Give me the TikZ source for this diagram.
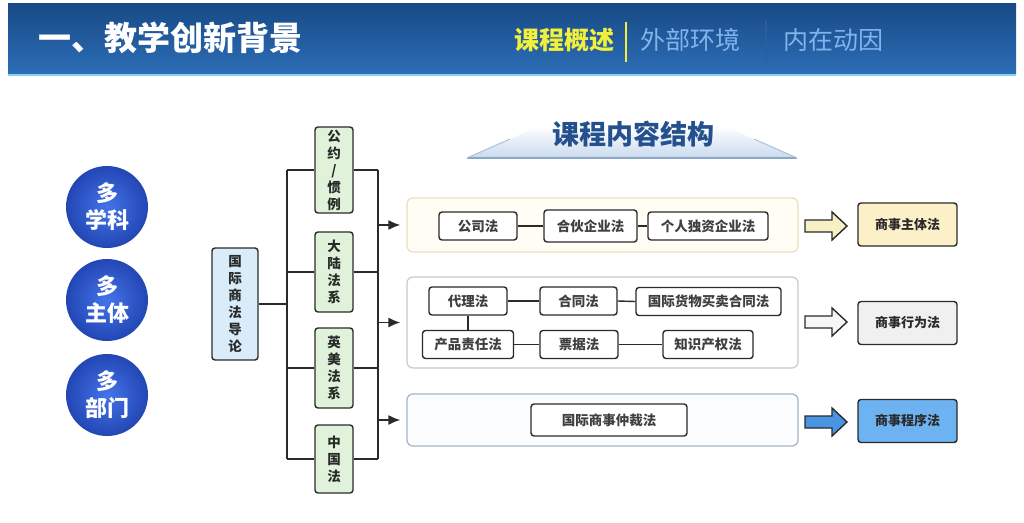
\documentclass[tikz,border=0pt]{standalone}
\usepackage{fontspec}
\setmainfont{Noto Sans CJK SC}
\usetikzlibrary{arrows.meta}
\definecolor{hdrtop}{HTML}{184A86}
\definecolor{hdrbot}{HTML}{2C6DB6}
\definecolor{hdrline}{HTML}{86D2F2}
\definecolor{tabyellow}{HTML}{F2F03C}
\definecolor{tabblue}{HTML}{80B4EC}
\definecolor{tabsep}{HTML}{2A5E9E}
\definecolor{circin}{HTML}{4474EA}
\definecolor{circout}{HTML}{2346B4}
\definecolor{lineink}{HTML}{2A2A2A}
\definecolor{greenfill}{HTML}{E0F3DA}
\definecolor{introfill}{HTML}{D8EDF9}
\definecolor{titleblue}{HTML}{24508E}
\definecolor{bannerbot}{HTML}{C9DAEE}
\definecolor{banneredge}{HTML}{8CA6C8}
\definecolor{gonefill}{HTML}{FFFDF4}
\definecolor{gonedraw}{HTML}{E8E0BC}
\definecolor{gtwodraw}{HTML}{C6CACF}
\definecolor{gthreefill}{HTML}{FBFDFF}
\definecolor{gthreedraw}{HTML}{A2B5CA}
\definecolor{aone}{HTML}{F7F0C4}
\definecolor{atwo}{HTML}{F6F6F6}
\definecolor{athree}{HTML}{4A94E4}
\definecolor{rone}{HTML}{FCF0C8}
\definecolor{rtwo}{HTML}{F0F0F0}
\definecolor{rthree}{HTML}{6DB3F2}
\begin{document}
\begin{tikzpicture}[x=1pt,y=-1pt,
  bubble/.style={circle, minimum size=82pt, inner sep=0pt, inner color=circin, outer color=circout,
    text=white, align=center, font=\fontsize{22}{27}\bfseries\selectfont},
  vbox/.style={draw=lineink, line width=1.4pt, rounded corners=3pt, inner sep=1pt, align=center,
    text width=20pt, font=\fontsize{13.5}{17}\bfseries\selectfont, text=lineink},
  greenbox/.style={vbox, fill=greenfill, minimum width=38pt},
  introbox/.style={vbox, fill=introfill, minimum width=46pt, minimum height=112pt},
  tree/.style={draw=lineink, line width=1.8pt},
  grp/.style={line width=1.2pt, rounded corners=6pt},
  lawbox/.style={draw=lineink, line width=1.4pt, rounded corners=3pt, fill=white, inner sep=1pt,
    minimum height=28pt, font=\fontsize{13.5}{14}\bfseries\selectfont, text=lineink!90},
  conn/.style={draw=lineink, line width=1.4pt},
  resbox/.style={draw=lineink, line width=1.4pt, rounded corners=3pt, minimum width=99pt,
    minimum height=43pt, font=\fontsize{13}{14}\bfseries\selectfont, text=lineink},
  harrow/.style={draw=lineink, line width=1.4pt, line join=miter}
]
\useasboundingbox (0,0) rectangle (1024,522);
\fill[white] (0,0) rectangle (1024,522);

% header
\shade[top color=hdrtop, bottom color=hdrbot] (8,3) rectangle (1016,74);
\fill[hdrline] (8,74) rectangle (1016,76);
\node[anchor=west, text=white, inner sep=0pt, font=\fontsize{33}{33}\bfseries\selectfont] (title) at (38,38) {一、教学创新背景};
\node[anchor=west, text=tabyellow, inner sep=0pt, font=\fontsize{25}{25}\bfseries\selectfont] (tabone) at (514,40) {课程概述};
\draw[tabyellow, line width=2.5pt] (626,22) -- (626,62);
\node[anchor=west, text=tabblue, inner sep=0pt, font=\fontsize{25}{25}\selectfont] (tabtwo) at (640,40) {外部环境};
\draw[tabsep, line width=2pt] (766,20) -- (766,60);
\node[anchor=west, text=tabblue, inner sep=0pt, font=\fontsize{25}{25}\selectfont] (tabthree) at (783,40) {内在动因};

% bubbles
\node[bubble] (c1) at (107,207) {多\\学科};
\node[bubble] (c2) at (107,300) {多\\主体};
\node[bubble] (c3) at (107,395) {多\\部门};

% tree
\node[introbox] (intro) at (235,304) {国\\际\\商\\法\\导\\论};
\node[greenbox, minimum height=86pt] (b1) at (334,170) {公\\约\\/\\惯\\例};
\node[greenbox, minimum height=80pt] (b2) at (334,272) {大\\陆\\法\\系};
\node[greenbox, minimum height=80pt] (b3) at (334,368) {英\\美\\法\\系};
\node[greenbox, minimum height=68pt] (b4) at (334,459) {中\\国\\法};
\coordinate (L) at (287,0);
\coordinate (R) at (378,0);
\draw[tree] (intro.east) -- (L |- intro.east);
\draw[tree] (L |- b1.west) -- (L |- b4.west);
\foreach \b in {b1,b2,b3,b4}{
  \draw[tree] (L |- \b.west) -- (\b.west);
  \draw[tree] (\b.east) -- (R |- \b.east);
}
\draw[tree] (R |- b1.east) -- (R |- b4.east);

% banner title
\shade[top color=white, bottom color=bannerbot] (467,158) -- (540,126) -- (724,126) -- (797,158) -- cycle;
\draw[banneredge, line width=1.2pt] (467,158) -- (797,158);
\draw[banneredge!70, line width=1pt] (467,158) -- (510,139);
\draw[banneredge!70, line width=1pt] (797,158) -- (754,139);
\node[text=titleblue, font=\fontsize{27}{27}\bfseries\selectfont] (ctitle) at (633,134) {课程内容结构};

% groups
\node[grp, draw=gonedraw, fill=gonefill, minimum width=391pt, minimum height=54pt] (g1) at (602.5,225) {};
\node[grp, draw=gtwodraw, fill=white, minimum width=391pt, minimum height=91pt] (g2) at (602.5,322.5) {};
\node[grp, draw=gthreedraw, fill=gthreefill, minimum width=391pt, minimum height=52pt] (g3) at (602.5,420) {};
\foreach \g in {g1,g2,g3}{
  \draw[tree, -{Latex[length=12pt,width=10pt]}, shorten >=6pt] (R |- \g.west) -- (\g.west);
}

% group 1
\node[lawbox, minimum width=78pt] (gs) at (478,226) {公司法};
\node[lawbox, minimum width=93pt, minimum height=32pt] (hh) at (590.5,226) {合伙企业法};
\node[lawbox, minimum width=120pt] (gr) at (708,226) {个人独资企业法};
\draw[conn] (gs.east) -- (hh.west);
\draw[conn] (hh.east) -- (gr.west);

% group 2
\node[lawbox, minimum width=78pt] (dl) at (468,301) {代理法};
\node[lawbox, minimum width=77pt] (ht) at (578.5,301) {合同法};
\node[lawbox, minimum width=145pt] (gj) at (708.5,301.5) {国际货物买卖合同法};
\node[lawbox, minimum width=91pt] (cp) at (468,344.5) {产品责任法};
\node[lawbox, minimum width=78pt] (pj) at (579,344.5) {票据法};
\node[lawbox, minimum width=90pt] (zs) at (708,344.5) {知识产权法};
\draw[conn] (dl.east) -- (ht.west);
\draw[conn] (ht.east) -- (gj.west);
\draw[conn] (dl.south) -- (cp.north);
\draw[conn] (cp.east) -- (pj.west);
\draw[conn] (pj.east) -- (zs.west);

% group 3
\node[lawbox, minimum width=156pt, minimum height=32pt] (zc) at (609,420) {国际商事仲裁法};

% hollow arrows
\foreach \y/\c in {226/aone, 322/atwo, 422/athree}{
  \draw[harrow, fill=\c] (805,\y-6) -- (832,\y-6) -- (832,\y-14) -- (847,\y) -- (832,\y+14) -- (832,\y+6) -- (805,\y+6) -- cycle;
}

% results
\node[resbox, fill=rone] (r1) at (907.5,224.5) {商事主体法};
\node[resbox, fill=rtwo] (r2) at (907.5,323) {商事行为法};
\node[resbox, fill=rthree] (r3) at (907.5,421) {商事程序法};
\end{tikzpicture}
\end{document}
